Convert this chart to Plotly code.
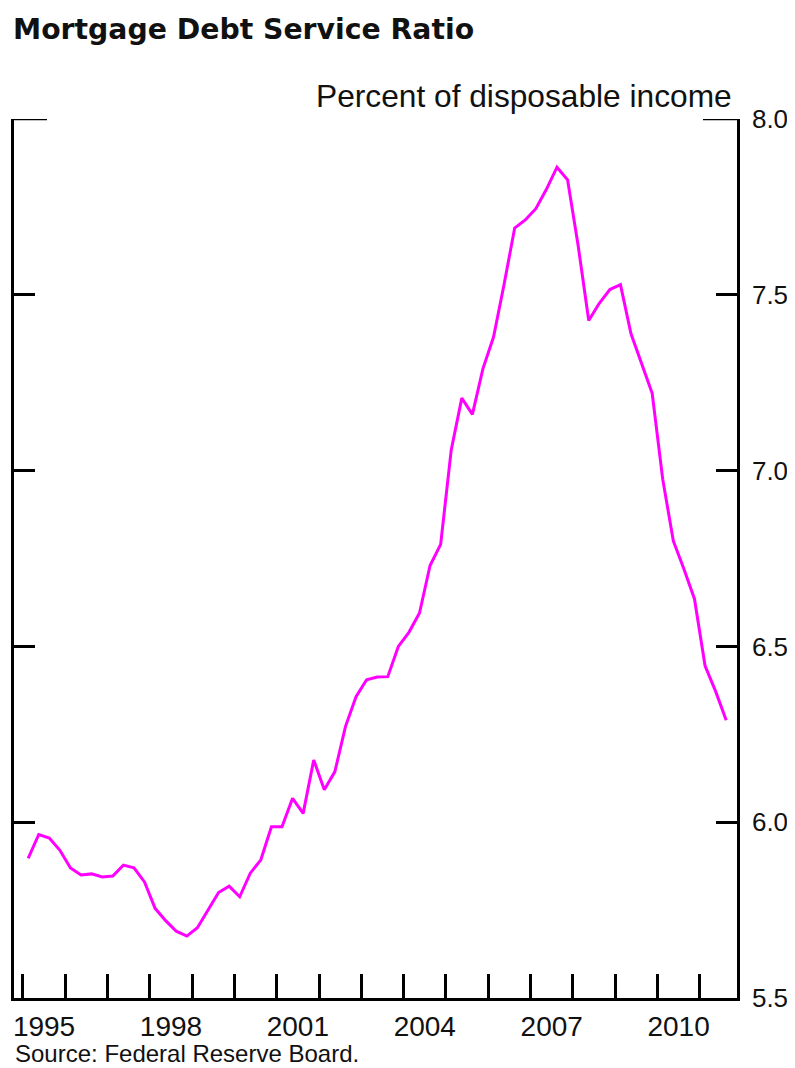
import plotly.graph_objects as go
import pandas as pd

# Quarterly observations, 1995Q1 .. 2011Q3
quarters = [str(p) for p in pd.period_range("1995Q1", "2011Q3", freq="Q")]
dsr = [
    5.897, 5.965, 5.955, 5.920,   # 1995
    5.870, 5.850, 5.853, 5.844,   # 1996
    5.847, 5.878, 5.870, 5.830,   # 1997
    5.755, 5.720, 5.690, 5.676,   # 1998
    5.700, 5.750, 5.800, 5.818,   # 1999
    5.788, 5.855, 5.893, 5.987,   # 2000
    5.987, 6.068, 6.025, 6.177,   # 2001
    6.092, 6.144, 6.272, 6.357,   # 2002
    6.405, 6.413, 6.414, 6.500,   # 2003
    6.540, 6.595, 6.730, 6.790,   # 2004
    7.059, 7.206, 7.160, 7.290,   # 2005
    7.380, 7.530, 7.690, 7.713,   # 2006
    7.745, 7.800, 7.863, 7.827,   # 2007
    7.640, 7.427, 7.476, 7.515,   # 2008
    7.529, 7.389, 7.302, 7.220,   # 2009
    6.975, 6.800, 6.720, 6.635,   # 2010
    6.445, 6.372, 6.290,          # 2011
]
year_ticks = list(range(1995, 2012))
year_labels = ["1995", "1998", "2001", "2004", "2007", "2010"]
y_ticks = [5.5, 6.0, 6.5, 7.0, 7.5, 8.0]
y_labels = ["5.5", "6.0", "6.5", "7.0", "7.5", "8.0"]

title_text = "Mortgage Debt Service Ratio"
unit_text = "Percent of disposable income"
source_text = "Source: Federal Reserve Board."

# quarter midpoints in decimal years
xq = [int(q[:4]) + (int(q[-1]) - 0.5) / 4 for q in quarters]

# page body has an 8px margin, so the figure is sized to the remaining view
W, H = 787, 1060
ml, mr, mt, mb = 6, 58, 111, 70
xr = [1994.79, 2011.88]

fig = go.Figure()
fig.add_trace(go.Scatter(x=xq, y=dsr, mode="lines",
                         line=dict(color="#FF00FF", width=3),
                         showlegend=False, hoverinfo="skip"))
# invisible trace to activate the label axis
fig.add_trace(go.Scatter(x=[xr[0]], y=[6], xaxis="x2", mode="markers",
                         marker=dict(opacity=0), showlegend=False,
                         hoverinfo="skip"))

txt = dict(family="Liberation Sans, Arial, sans-serif", color="#111111")

fig.update_layout(
    width=W, height=H,
    margin=dict(l=ml, r=mr, t=mt, b=mb, pad=0, autoexpand=False),
    paper_bgcolor="white", plot_bgcolor="white",
    xaxis=dict(range=xr, tickvals=year_ticks, showticklabels=False,
               ticks="inside", ticklen=24, tickwidth=2.5, tickcolor="black",
               showline=True, linecolor="black", linewidth=2.5,
               showgrid=False, zeroline=False, automargin=False),
    xaxis2=dict(range=xr, overlaying="x", anchor="y", side="bottom",
                tickvals=[int(y) + 0.5 for y in year_labels], ticktext=year_labels,
                ticks="outside", ticklen=3, tickcolor="rgba(0,0,0,0)",
                tickfont=dict(size=28, **txt), automargin=False,
                showline=False, showgrid=False, zeroline=False),
    yaxis=dict(range=[5.5, 8.0], side="right", tickvals=y_ticks, ticktext=y_labels,
               ticks="inside", ticklen=21, tickwidth=2.5, tickcolor="black",
               mirror="ticks", showline=True, linecolor="black", linewidth=2.5,
               ticklabelstandoff=7, automargin=False,
               tickfont=dict(size=26, **txt),
               showgrid=False, zeroline=False),
    title=dict(text="<b>" + title_text + "</b>", xref="container", yref="container",
               x=5 / W, xanchor="left", y=1 - 11 / H, yanchor="top", pad=dict(l=0),
               font=dict(family="DejaVu Sans, Liberation Sans, sans-serif",
                         size=28.3, color="#111111")),
)

# longer top ticks at 8.0 on both sides
span = W - ml - mr
fig.add_shape(type="line", xref="paper", yref="y", x0=0, x1=33 / span, y0=8.0, y1=8.0,
              line=dict(color="black", width=2.5))
fig.add_shape(type="line", xref="paper", yref="y", x0=1 - 34 / span, x1=1, y0=8.0, y1=8.0,
              line=dict(color="black", width=2.5))

fig.add_annotation(text=unit_text, xref="paper", yref="paper", x=1 - 3 / span, y=1,
                   xanchor="right", yanchor="bottom", yshift=3, showarrow=False,
                   font=dict(size=31.7, **txt))
fig.add_annotation(text=source_text, xref="paper", yref="paper", x=0, y=0,
                   xanchor="left", yanchor="middle", yshift=-55, showarrow=False,
                   borderpad=0, font=dict(size=24, **txt))

fig.write_html("out.html")
